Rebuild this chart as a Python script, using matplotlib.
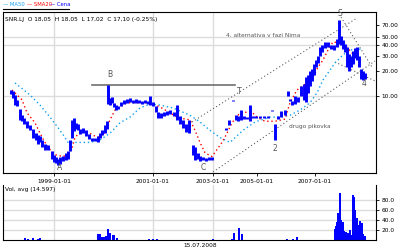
from matplotlib import pyplot as plt
from matplotlib.lines import Line2D

plt.rcParams['font.family'] = ['DejaVu Sans']

# price bars (week index, low, high)
bar_t = [11, 13, 15, 17, 20, 22, 24, 27, 30, 33, 36, 38, 40, 42, 45, 48, 52, 54, 56, 58,
         60, 63, 66, 68, 70, 72, 74, 76, 78, 80, 83, 86, 89, 92, 95, 98, 100, 102, 105, 107,
         108, 110, 112, 114, 116, 118, 121, 124, 127, 130, 133, 136, 139, 142, 145, 148, 150, 153, 156, 158,
         161, 164, 167, 170, 174, 177, 180, 183, 186, 189, 193, 195, 198, 200, 203, 206, 209, 212,
         226, 229, 233, 236, 238, 241, 244, 247, 250, 253, 256, 260, 264, 268, 272, 275, 278, 281,
         285, 288, 290, 292, 295, 298, 301, 304, 306, 308, 310, 312, 314, 316, 318, 320, 322, 325,
         328, 331, 334, 337, 339, 341, 343, 345, 347, 349, 351, 353, 355, 357, 359, 361, 363, 365]
bar_lo = [10.5, 9.5, 7.8, 7.5, 5.2, 5.0, 4.6, 4.2, 3.9, 3.2, 3.0, 2.7, 2.8, 2.5, 2.3, 2.3, 1.8, 1.65, 1.6, 1.5,
          1.55, 1.7, 1.75, 1.8, 2.2, 3.2, 3.8, 4.0, 3.9, 3.5, 3.6, 3.3, 3.1, 2.9, 2.9, 2.8, 3.2, 3.4, 3.6, 4.0,
          8.0, 7.8, 8.3, 7.3, 6.8, 7.0, 7.5, 8.0, 8.3, 8.5, 8.2, 8.3, 8.2, 8.0, 8.2, 8.0, 7.8, 7.6, 6.4, 5.5,
          5.5, 5.8, 6.0, 6.1, 5.8, 5.2, 4.6, 4.2, 3.7, 3.6, 2.0, 1.75, 1.8, 1.7, 1.75, 1.7, 1.72, 1.75,
          3.9, 4.5, 8.7, 5.2, 5.0, 5.2, 5.3, 5.3, 5.0, 5.4, 5.4, 5.5, 5.5, 5.4, 6.6, 3.0, 5.3, 5.6,
          6.0, 10.0, 8.7, 7.8, 8.0, 8.4, 10.0, 9.0, 8.5, 11.0, 13.0, 15.0, 18.0, 22.0, 25.0, 30.0, 33.0, 37.0,
          38.0, 36.0, 35.0, 38.0, 42.0, 40.0, 36.0, 33.0, 22.0, 20.0, 22.0, 24.0, 28.0, 27.0, 22.0, 16.0, 15.5, 16.0]
bar_hi = [11.8, 11.5, 10.3, 9.0, 7.0, 6.0, 5.4, 5.0, 4.5, 4.0, 3.6, 3.4, 3.3, 3.0, 2.7, 2.6, 2.2, 2.0, 1.9, 1.8,
          1.9, 1.95, 2.1, 2.2, 3.0, 5.2, 5.5, 4.8, 4.7, 4.0, 4.2, 3.9, 3.5, 3.2, 3.2, 3.3, 3.6, 3.9, 4.5, 5.0,
          13.5, 9.5, 9.8, 8.3, 7.8, 7.6, 8.5, 9.0, 9.2, 9.4, 9.0, 9.1, 9.0, 8.8, 8.9, 8.6, 9.9, 8.5, 7.5, 6.5,
          6.2, 6.4, 6.6, 6.8, 6.5, 7.8, 5.8, 5.2, 4.6, 5.2, 2.6, 2.5, 2.1, 1.95, 1.9, 1.85, 1.88, 1.9,
          4.2, 5.2, 9.0, 6.0, 5.8, 6.8, 5.8, 5.6, 7.8, 5.8, 5.7, 5.7, 5.7, 5.7, 6.9, 4.7, 5.7, 6.6,
          6.8, 11.5, 9.3, 8.7, 10.0, 9.6, 13.0, 14.0, 17.0, 18.0, 20.0, 21.0, 24.0, 27.0, 30.0, 38.0, 40.0, 44.0,
          44.0, 41.0, 40.0, 48.0, 80.0, 52.0, 46.0, 42.0, 38.0, 32.0, 30.0, 34.0, 37.0, 38.0, 30.0, 21.0, 20.0, 19.0]

# short moving average (red)
ma_short_t = [12, 22, 27, 35, 40, 45, 50, 55, 63, 67, 72, 75, 80, 85, 93, 100, 105, 110, 115, 120,
              127, 143, 150, 160, 170, 178, 190, 195, 200, 205, 212, 217, 222, 227, 232, 240, 245, 252, 257, 265,
              275, 285, 290, 297, 307, 313, 318, 323, 328, 333, 340, 347, 352, 362]
ma_short = [11.8, 9.0, 6.3, 4.8, 3.6, 2.8, 2.3, 2.0, 1.9, 2.0, 2.4, 3.2, 3.7, 3.9, 3.4, 3.2, 3.7, 5.2, 6.8, 7.4,
            8.3, 8.3, 8.3, 7.4, 6.3, 5.5, 5.2, 3.9, 2.8, 2.1, 1.9, 2.3, 2.8, 3.6, 4.8, 6.3, 6.4, 6.4, 5.6, 5.0,
            5.0, 5.3, 8.3, 11.8, 14.3, 16.8, 22.0, 26.8, 35.3, 44.0, 42.7, 38.0, 32.5, 26.8]

# long moving average (light blue)
ma_long_t = [15, 20, 30, 40, 50, 58, 65, 68, 72, 80, 90, 100, 110, 120, 130, 140, 150, 160, 173, 190,
             200, 210, 220, 230, 243, 255, 270, 280, 290, 300, 310, 317, 323, 328, 335, 343, 350, 363]
ma_long = [14.3, 12.8, 10.3, 7.8, 5.6, 4.2, 3.2, 2.8, 2.8, 2.8, 2.8, 3.0, 3.6, 4.8, 5.6, 7.2, 8.0, 7.8, 7.2, 5.9,
           4.9, 3.9, 3.2, 2.8, 3.9, 4.9, 5.6, 5.6, 5.9, 6.8, 8.3, 10.9, 15.5, 18.8, 24.7, 30.8, 35.3, 36.3]

# volume
vol_t = [25, 28, 33, 38, 40, 98, 100, 102, 104, 106, 108, 110, 113, 114, 117, 149, 153, 157,
         213, 232, 234, 239, 242, 287, 293, 297,
         335, 336, 337, 338, 340, 341, 343, 344, 346, 348, 350, 352, 353, 354, 355, 357, 358, 360, 362, 363, 365]
vol = [4, 3, 4, 3, 4, 12, 12, 6, 6, 8, 22, 14, 10, 10, 4, 2, 2, 2,
       2, 2, 14, 24, 12, 2, 2, 6,
       22, 28, 36, 54, 94, 40, 36, 18, 16, 14, 20, 10, 90, 86, 60, 44, 30, 38, 34, 12, 8]

date_pos = [54, 153, 213, 257, 315]
date_labels = ['1999-01-01', '2001-01-01', '2003-01-01', '2005-01-01', '2007-01-01']
price_ticks = [10, 20, 30, 40, 50, 70]
vol_ticks = [20, 40, 60, 80]

# channel / trend lines (t0, t1, p0, p1)
upper_ch = ([192, 357], [4.9, 84.8])
lower_ch = ([213, 375], [1.245, 26.1])
fall_1 = ([341, 372], [87.0, 22.1])
fall_2 = ([335, 377], [25.4, 14.7])

BLUE = '#0000ff'
CYAN = '#10a0f0'
RED = '#ff0000'
GRID = '#dcdcdc'
GRAY = '#606060'

fig = plt.figure(figsize=(4, 2.5), dpi=100)
ax = fig.add_axes([0.0075, 0.308, 0.9325, 0.644])
axv = fig.add_axes([0.0075, 0.04, 0.9325, 0.22])

# main price panel
ax.set_yscale('log')
ax.set_xlim(3, 376)
ax.set_ylim(1.21, 100)
for p in [10, 40, 50]:
    ax.axhline(p, color=GRID, lw=1, zorder=0)
for d in date_pos[:3]:
    ax.axvline(d, color=GRID, lw=1, zorder=0)
    axv.axvline(d, color=GRID, lw=1, zorder=0)

for xs, ys in [upper_ch, lower_ch, fall_1, fall_2]:
    ax.plot(xs, ys, color=GRAY, lw=0.8, ls=(0, (1, 2.2)), zorder=1)
ax.plot([92, 235], [13.5, 13.5], color='#707070', lw=1.2, zorder=1)

ax.plot(ma_long_t, ma_long, color=CYAN, lw=1.0, ls=(0, (1, 2)), zorder=2)
ax.plot(ma_short_t, ma_short, color=RED, lw=1.0, ls=(0, (1, 2)), zorder=2)
ax.vlines(bar_t, bar_lo, bar_hi, color=BLUE, lw=2.1, zorder=3)

ax.yaxis.tick_right()
ax.set_yticks(price_ticks)
ax.set_yticklabels(['%d.00' % p for p in price_ticks])
ax.yaxis.set_minor_locator(plt.NullLocator())
ax.set_xticks(date_pos)
ax.set_xticklabels(date_labels)
ax.tick_params(labelsize=4.2, length=2, width=0.6, pad=2)
for s in ax.spines.values():
    s.set_linewidth(0.8)

txt = dict(color='#555555', fontsize=5.5, ha='center', va='center')
ax.text(110, 17.8, 'B', **txt)
ax.text(60, 1.39, 'A', **txt)
ax.text(203, 1.39, 'C', **txt)
ax.text(239, 11.2, 'T', **txt)
ax.text(275, 2.4, '2', **txt)
ax.text(340, 97, 'S', **txt)
ax.text(364, 13.9, '4', **txt)
ax.text(310, 4.3, 'drugo pikovka', color='#555555', fontsize=4.2, ha='center', va='center')
ax.text(263, 53, '4. alternativa v fazi Nima', color='#555555', fontsize=4.2, ha='center', va='center')
ax.text(0.006, 0.97, 'SNR.LJ  O 18,05  H 18,05  L 17,02  C 17,10 (-0.25%)', transform=ax.transAxes,
        fontsize=4.2, va='top', ha='left')

# volume panel
axv.set_xlim(3, 376)
axv.set_ylim(0, 110)
for v in vol_ticks:
    axv.axhline(v, color=GRID, lw=1, zorder=0)
axv.bar(vol_t, vol, width=1.1, color=BLUE, zorder=2)
axv.yaxis.tick_right()
axv.set_yticks(vol_ticks)
axv.set_yticklabels(['%d.0' % v for v in vol_ticks])
axv.set_xticks([])
axv.tick_params(labelsize=4.2, length=2, width=0.6, pad=2)
axv.spines['top'].set_visible(False)
for s in ['left', 'right', 'bottom']:
    axv.spines[s].set_linewidth(0.8)
axv.text(0.006, 0.97, 'Vol, avg (14.597)', transform=axv.transAxes, fontsize=4.2, va='top', ha='left')

# legend strip
fig.text(0.008, 0.982, '\u2014 MA50', color=CYAN, fontsize=3.8, va='center')
fig.text(0.068, 0.982, '\u2014 SMA20', color=RED, fontsize=3.8, va='center')
fig.text(0.126, 0.982, '\u2014 Cena', color=BLUE, fontsize=3.8, va='center')
fig.add_artist(Line2D([0.008, 0.172], [0.963, 0.963], color='black', lw=0.8))
fig.text(0.5, 0.018, '15.07.2008', fontsize=4.2, ha='center', va='center')

fig.savefig('out.png', dpi=100)
